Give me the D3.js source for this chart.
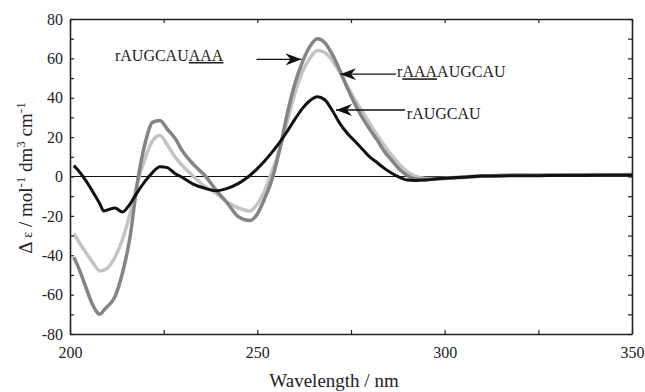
<!DOCTYPE html>
<html>
<head>
<meta charset="utf-8">
<script src="https://cdn.jsdelivr.net/npm/d3@7"></script>
<style>
  body { margin: 0; background: #fff; }
  svg text { font-family: "Liberation Serif", "Times New Roman", serif !important; fill: #222; }
</style>
</head>
<body>
<div class="chart"></div>
<script>
// wavelength grid (nm), shared by the three spectra
const wavelength = [201,202,204,206,208,209,210,212,214,216,218,220,222,224,226,228,230,233,236,239,242,245,248,250,252,254,256,258,260,262,264,266,268,270,272,274,276,278,280,282,284,286,288,290,292,295,298,302,306,310,315,320,325,330,335,340,345,350];

// delta epsilon values
const rAUGCAU = [5.5,3.5,-1.5,-7.5,-14,-17.5,-17,-16,-18,-14,-8,-2.5,2,5,4.5,1.5,-0.5,-4,-6,-7.2,-6,-3.5,0.5,4,8,12.5,17.5,23,29,34.5,38.5,40.5,39,33.5,27,22,18,14,10,7,4,1.5,-0.5,-1.8,-2,-1.8,-1.2,-0.6,-0.2,0.2,0.3,0.4,0.4,0.5,0.5,0.6,0.6,0.7];
const rAUGCAUAAA = [-41,-45,-55,-65,-70,-68,-66,-61,-49,-31,-3,16.5,27.5,28.5,24,19.5,13,6,0.5,-6.9,-13.5,-20.5,-22.4,-19,-11,-1,14,32,47,58,66,70,68,62,54,45,37,30,24,18.5,12.5,8,3.5,0.5,-1.2,-1.5,-1.2,-0.8,-0.4,0.2,0.5,0.7,0.6,0.8,0.9,0.8,0.9,1.0];
const rAAAAUGCAU = [-29,-32,-38,-43.5,-48,-47.5,-46.5,-41,-32,-19,-3,9,18,21,16,10,5.5,0,-5,-8.5,-13,-16,-17.5,-14,-7,3,14,28,42,53,60,64,63,59,53,46,39,33,27,21,15.5,10.5,6,2.5,0.3,-1,-1,-0.5,0,0.4,0.6,0.8,0.7,0.9,0.8,1.0,0.9,1.0];

const xTicks = [200,225,250,275,300,325,350];
const yTicks = d3.range(-80, 81, 10);

const W = 645, H = 392;
const margin = { top: 19, right: 13, bottom: 58, left: 70 };
const width = W - margin.left - margin.right;
const height = H - margin.top - margin.bottom;
const serif = '"Liberation Serif", "Times New Roman", serif';

const svg = d3.select(".chart")
    .append("svg")
    .attr("width", W)
    .attr("height", H);

const g = svg.append("g")
    .attr("transform", `translate(${margin.left},${margin.top})`);

const x = d3.scaleLinear().domain([200, 350]).range([0, width]);
const y = d3.scaleLinear().domain([-80, 80]).range([height, 0]);

// zero line
g.append("line")
    .attr("x1", 0).attr("x2", width)
    .attr("y1", y(0)).attr("y2", y(0))
    .attr("stroke", "#111").attr("stroke-width", 1);

// spectra
const series = [
    { name: "rAAAAUGCAU", values: rAAAAUGCAU, color: "#c4c4c4", w: 3.5 },
    { name: "rAUGCAUAAA", values: rAUGCAUAAA, color: "#848484", w: 3.5 },
    { name: "rAUGCAU", values: rAUGCAU, color: "#111", w: 3 }
];

const line = d3.line()
    .x((d, i) => x(wavelength[i]))
    .y(d => y(d))
    .curve(d3.curveMonotoneX);

g.selectAll(".spec")
    .data(series)
    .enter()
    .append("path")
    .attr("class", "spec")
    .attr("d", d => line(d.values))
    .attr("fill", "none")
    .attr("stroke", d => d.color)
    .attr("stroke-width", d => d.w)
    .attr("stroke-linejoin", "round");

// axes, ticks inside on all four sides
const fmtX = d => (d % 50 === 0 ? d : "");
const fmtY = d => (d % 20 === 0 ? d : "");

const axB = g.append("g").attr("transform", `translate(0,${height})`)
    .call(d3.axisBottom(x).tickValues(xTicks).tickSize(-4).tickSizeOuter(0).tickPadding(13).tickFormat(fmtX));
const axT = g.append("g")
    .call(d3.axisTop(x).tickValues(xTicks).tickSize(-4).tickSizeOuter(0).tickFormat(""));
const axL = g.append("g")
    .call(d3.axisLeft(y).tickValues(yTicks).tickSize(-4).tickSizeOuter(0).tickPadding(7).tickFormat(fmtY));
const axR = g.append("g").attr("transform", `translate(${width},0)`)
    .call(d3.axisRight(y).tickValues(yTicks).tickSize(-4).tickSizeOuter(0).tickFormat(""));

[axB, axT, axL, axR].forEach(a => {
    a.attr("font-family", serif).attr("font-size", 16);
    a.select(".domain").attr("stroke", "#222").attr("stroke-width", 1.6);
    a.selectAll(".tick line").attr("stroke", "#222").attr("stroke-width", 1.2);
    a.selectAll("text")
        .style("font-family", serif)
        .style("font-size", "16px")
        .attr("fill", "#222");
});

// axis titles
svg.append("text")
    .attr("x", 334).attr("y", 387)
    .attr("text-anchor", "middle")
    .style("font-family", serif)
    .attr("font-size", 19)
    .text("Wavelength / nm");

const yl = svg.append("text")
    .attr("transform", "translate(32,178) rotate(-90)")
    .attr("text-anchor", "middle")
    .style("font-family", serif)
    .attr("font-size", 19);
yl.append("tspan").text("Δ ");
yl.append("tspan").attr("font-size", 14).text("ε");
yl.append("tspan").text(" / mol");
yl.append("tspan").attr("font-size", 13).attr("dy", -7).text("-1");
yl.append("tspan").attr("dy", 7).text(" dm");
yl.append("tspan").attr("font-size", 13).attr("dy", -7).text("3");
yl.append("tspan").attr("dy", 7).text(" cm");
yl.append("tspan").attr("font-size", 13).attr("dy", -7).text("-1");

// annotations with arrows
svg.append("defs").append("marker")
    .attr("id", "head")
    .attr("viewBox", "0 0 16 12")
    .attr("refX", 16).attr("refY", 6)
    .attr("markerWidth", 16).attr("markerHeight", 12)
    .attr("markerUnits", "userSpaceOnUse")
    .attr("orient", "auto")
    .append("path")
    .attr("d", "M0,0 L16,6 L0,12 L5,6 Z")
    .attr("fill", "#111");

const notes = [
    { parts: [["rAUGCAU", false], ["AAA", true]], tx: 212, ty: 58.7, from: [249.8, 59.5], to: [261.8, 59.5] },
    { parts: [["r", false], ["AAA", true], ["AUGCAU", false]], tx: 287.3, ty: 50.4, from: [287, 52], to: [272.1, 52] },
    { parts: [["rAUGCAU", false]], tx: 289.9, ty: 29, from: [289.4, 33.8], to: [271, 33.8] }
];

notes.forEach(n => {
    const t = g.append("text")
        .attr("x", x(n.tx)).attr("y", y(n.ty))
        .style("font-family", serif)
        .attr("font-size", 16);
    n.parts.forEach(p => {
        t.append("tspan").text(p[0])
            .attr("text-decoration", p[1] ? "underline" : null);
    });
    g.append("line")
        .attr("x1", x(n.from[0])).attr("y1", y(n.from[1]))
        .attr("x2", x(n.to[0])).attr("y2", y(n.to[1]))
        .attr("stroke", "#111").attr("stroke-width", 1.4)
        .attr("marker-end", "url(#head)");
});
</script>
</body>
</html>
